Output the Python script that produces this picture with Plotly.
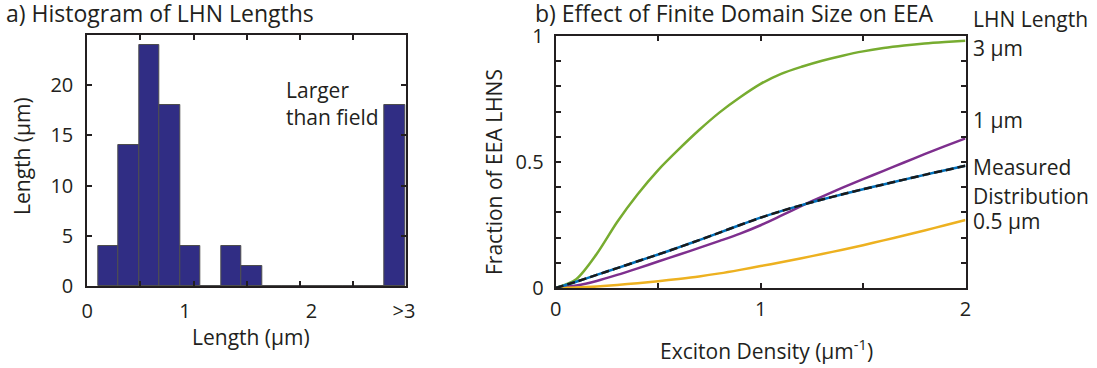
import plotly.graph_objects as go

# ---------------- data: panel a (histogram) ----------------
bin_centers = [0.199, 0.392, 0.584, 0.777, 0.969, 1.162, 1.354, 1.547, 1.739,
               1.932, 2.124, 2.317, 2.509, 2.702, 2.894]
bin_counts = [4, 14, 24, 18, 4, 0, 4, 2, 0, 0, 0, 0, 0, 0, 18]
bin_width = 0.1925
hist_xtick_pos = [0, 0.92, 2.11, 2.98]
hist_xtick_text = ["0", "1", "2", ">3"]
hist_ytick_vals = [0, 5, 10, 15, 20]

# ---------------- data: panel b (curves) ----------------
density = [0, 0.1, 0.2, 0.3, 0.4, 0.5, 0.6, 0.7, 0.8, 0.9, 1.0,
           1.1, 1.2, 1.3, 1.4, 1.5, 1.6, 1.7, 1.8, 1.9, 2.0]
frac_3um = [0, 0.035, 0.135, 0.262, 0.372, 0.468, 0.55, 0.627, 0.697, 0.757, 0.81,
            0.85, 0.878, 0.902, 0.922, 0.939, 0.952, 0.962, 0.970, 0.976, 0.981]
frac_1um = [0, 0.01, 0.028, 0.052, 0.078, 0.105, 0.132, 0.159, 0.187, 0.216, 0.249,
            0.287, 0.326, 0.363, 0.398, 0.432, 0.465, 0.498, 0.531, 0.563, 0.594]
frac_measured = [0, 0.025, 0.052, 0.079, 0.106, 0.133, 0.161, 0.19, 0.22, 0.25, 0.279,
                 0.305, 0.329, 0.351, 0.372, 0.392, 0.411, 0.43, 0.449, 0.467, 0.485]
frac_05um = [0, 0.002, 0.006, 0.012, 0.019, 0.027, 0.036, 0.046, 0.058, 0.072, 0.087,
             0.102, 0.118, 0.135, 0.152, 0.17, 0.189, 0.208, 0.228, 0.249, 0.27]

right_labels = ["LHN Length", "3 µm", "1 µm", "Measured", "Distribution", "0.5 µm"]
right_label_y = [19.5, 48, 120, 167, 196, 221]  # pixel rows of label centres

W, H = 1097, 368
FONT = "Open Sans"
TXT = "#231f20"

fig = go.Figure()

fig.add_trace(go.Bar(
    x=bin_centers, y=bin_counts, width=bin_width,
    marker=dict(color="#302d84", line=dict(color="#4d4d4d", width=1)),
    xaxis="x", yaxis="y", showlegend=False,
))

def curve(y, color, dash=None):
    return go.Scatter(x=density, y=y, mode="lines",
                      line=dict(color=color, width=2.5, shape="spline", smoothing=0.8,
                                dash=dash),
                      xaxis="x2", yaxis="y2")

fig.add_trace(curve(frac_3um, "#77ac30"))
fig.add_trace(curve(frac_1um, "#7e2f8e"))
fig.add_trace(curve(frac_05um, "#edb120"))
fig.add_trace(curve(frac_measured, "#0072bd"))
fig.add_trace(curve(frac_measured, "#1a1a1a", dash="8px,4px"))

axis_common = dict(showline=True, linecolor="#231f20", linewidth=2, mirror="ticks",
                   ticks="inside", tickcolor="#231f20", tickwidth=2,
                   showgrid=False, zeroline=False,
                   tickfont=dict(family=FONT, size=20, color=TXT))

fig.update_layout(
    width=W, height=H, margin=dict(l=0, r=0, t=0, b=0, autoexpand=False),
    paper_bgcolor="white", plot_bgcolor="white", showlegend=False,
    bargap=0,
    xaxis=dict(domain=[87.3 / W, 406 / W], range=[0, 3], anchor="y",
               tickvals=hist_xtick_pos, ticktext=hist_xtick_text, ticklen=0,
               ticklabelstandoff=6,
               minor=dict(tickvals=[0.5, 1, 1.5, 2, 2.5], ticks="inside", ticklen=5,
                          tickwidth=2, tickcolor="#231f20"),
               **axis_common),
    yaxis=dict(domain=[1 - 286 / H, 1 - 35 / H], range=[0, 25], anchor="x",
               tickvals=hist_ytick_vals, ticklen=5, ticklabelstandoff=8,
               **axis_common),
    xaxis2=dict(domain=[555.7 / W, 965.5 / W], range=[0, 2], anchor="y2",
                tickvals=[0, 0.5, 1, 1.5, 2], ticktext=["0", "", "1", "", "2"],
                ticklen=5, ticklabelstandoff=2,
                **axis_common),
    yaxis2=dict(domain=[1 - 288 / H, 1 - 36 / H], range=[0, 1], anchor="x2",
                tickvals=[i / 10 for i in range(11)],
                ticktext=["0", "", "", "", "", "0.5", "", "", "", "", "1"],
                ticklen=5, ticklabelstandoff=6,
                **axis_common),
)

def ann(text, px, py, size=20, xanchor="left", angle=0, align="left"):
    return dict(text=text, x=px / W, y=1 - py / H, xref="paper", yref="paper",
                xanchor=xanchor, yanchor="middle", showarrow=False, align=align,
                textangle=angle, font=dict(family=FONT, size=size, color=TXT))

annotations = [
    ann("a) Histogram of LHN Lengths", 4, 13, size=23),
    ann("b) Effect of Finite Domain Size on EEA", 533, 13, size=23),
    ann("Larger<br>than field", 284, 104, size=21),
    ann("Length (µm)", 251, 337, size=21, xanchor="center"),
    ann("Length (µm)", 22, 156, size=21, xanchor="center", angle=-90),
    ann("Exciton Density (µm<sup>-1</sup>)", 766, 349, size=21, xanchor="center"),
    ann("Fraction of EEA LHNS", 494, 172, size=21, xanchor="center", angle=-90),
]
for txt, py in zip(right_labels, right_label_y):
    annotations.append(ann(txt, 971, py, size=21))
fig.update_layout(annotations=annotations)

fig.write_html("out.html", config={"displayModeBar": False},
               post_script="document.body.style.margin='0';"
                           "document.body.style.overflow='hidden';")
